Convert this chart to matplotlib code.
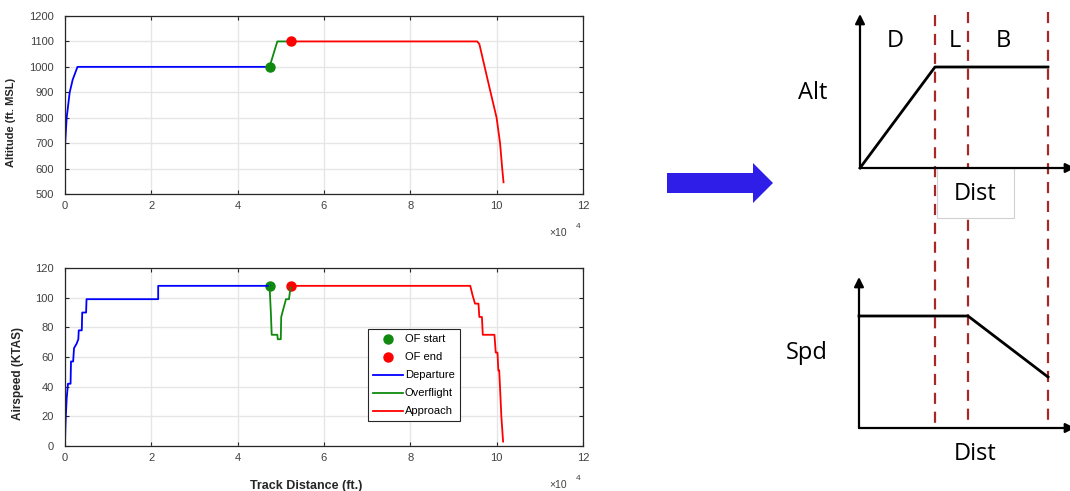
import matplotlib.pyplot as plt
from matplotlib.patches import FancyArrow, Rectangle

plt.rcParams["font.family"] = ["Liberation Sans", "DejaVu Sans"]

# ---- flight profile data (track distance in units of 1e4 ft) ----
dep_alt_x = [0.0, 0.005, 0.04, 0.11, 0.18, 0.29, 4.74]
dep_alt_y = [650, 700, 800, 900, 950, 1000, 1000]
ovf_alt_x = [4.74, 4.92, 5.23]
ovf_alt_y = [1000, 1100, 1100]
app_alt_x = [5.23, 9.55, 9.60, 9.86, 10.0, 10.08, 10.13, 10.16]
app_alt_y = [1100, 1100, 1090, 900, 800, 700, 600, 546]

dep_spd_x = [0.0, 0.01, 0.02, 0.04, 0.07, 0.13, 0.14, 0.19, 0.21, 0.27, 0.31, 0.32, 0.39,
             0.40, 0.49, 0.50, 2.16, 2.16, 4.74]
dep_spd_y = [0, 12, 20, 32, 42, 42, 57, 57, 66, 69, 72, 78, 78, 90, 90, 99, 99, 108, 108]
ovf_spd_x = [4.74, 4.77, 4.79, 4.92, 4.93, 5.00, 5.01, 5.12, 5.19, 5.23]
ovf_spd_y = [108, 90, 75, 75, 72, 72, 87, 99, 99, 108]
app_spd_x = [5.23, 9.39, 9.44, 9.50, 9.58, 9.60, 9.66, 9.68, 9.95, 9.98, 10.02, 10.04, 10.06,
             10.08, 10.11, 10.15]
app_spd_y = [108, 108, 102, 96, 96, 87, 87, 75, 75, 63, 63, 51, 51, 39, 20, 3]

of_start = (4.74, 1000, 108)
of_end = (5.23, 1100, 108)

# ---- schematic (pixel layout of the right-hand sketch) ----
phase_labels = ["D", "L", "B"]
phase_edges = [935, 968, 1048]
alt_sketch_x = [860, 935, 1048]
alt_sketch_y = [168, 67, 67]
spd_sketch_x = [859, 968, 1048]
spd_sketch_y = [316, 316, 377]

BLUE = "#0000ff"
GREEN = "#0f8a0f"
RED = "#ff0000"
TXT = "#404040"
EDGE = "#262626"

fig = plt.figure(figsize=(10.7, 4.91), dpi=100)
ax1 = fig.add_axes([0.0607, 0.6049, 0.4841, 0.3625])
ax2 = fig.add_axes([0.0607, 0.0916, 0.4841, 0.3625])


def style(ax, ylim, yticks):
    ax.set_xlim(0, 12)
    ax.set_ylim(*ylim)
    ax.set_xticks(range(0, 13, 2))
    ax.set_yticks(yticks)
    ax.grid(True, color="#e6e6e6", linewidth=1)
    ax.set_axisbelow(True)
    ax.tick_params(direction="in", length=3, width=0.8, colors=EDGE,
                   labelcolor=TXT, labelsize=8, top=True, right=True)
    ax.tick_params(axis="y", pad=8)
    ax.tick_params(axis="x", pad=5)
    for s in ax.spines.values():
        s.set_color(EDGE)
        s.set_linewidth(0.9)
    ax.text(0.935, -0.22, "\u00d710", transform=ax.transAxes, fontsize=7.5,
            color=TXT, ha="left", va="center")
    ax.text(0.986, -0.185, "4", transform=ax.transAxes, fontsize=6,
            color=TXT, ha="left", va="center")


# 1. Altitude ---------------------------------------------------------------
ax1.plot(dep_alt_x, dep_alt_y, color=BLUE, lw=1.3)
ax1.plot(ovf_alt_x, ovf_alt_y, color=GREEN, lw=1.3)
ax1.plot(app_alt_x, app_alt_y, color=RED, lw=1.3)
ax1.plot(of_start[0], of_start[1], "o", color=GREEN, ms=6.5)
ax1.plot(of_end[0], of_end[1], "o", color=RED, ms=6.5)
style(ax1, (500, 1200), range(500, 1201, 100))
ax1.set_ylabel("Altitude (ft. MSL)", fontsize=8, weight="bold", color=EDGE)
ax1.yaxis.set_label_coords(-0.095, 0.40)

# 2. Airspeed ---------------------------------------------------------------
ax2.plot(of_start[0], of_start[2], "o", color=GREEN, ms=6.5, label="OF start")
ax2.plot(of_end[0], of_end[2], "o", color=RED, ms=6.5, label="OF end")
ax2.plot(dep_spd_x, dep_spd_y, color=BLUE, lw=1.3, label="Departure")
ax2.plot(ovf_spd_x, ovf_spd_y, color=GREEN, lw=1.3, label="Overflight")
ax2.plot(app_spd_x, app_spd_y, color=RED, lw=1.3, label="Approach")
style(ax2, (0, 120), range(0, 121, 20))
ax2.set_ylabel("Airspeed (KTAS)", fontsize=8.5, weight="bold", color=EDGE)
ax2.yaxis.set_label_coords(-0.08, 0.41)
ax2.set_xlabel("Track Distance (ft.)", fontsize=9, weight="bold", color=EDGE)
ax2.xaxis.set_label_coords(0.465, -0.19)

leg = ax2.legend(loc="upper left", bbox_to_anchor=(0.585, 0.655), fontsize=8,
                 fancybox=False, edgecolor=EDGE, framealpha=1, labelspacing=0.72,
                 handlelength=2.7, handletextpad=0.15, borderpad=0.45,
                 borderaxespad=0)
leg.get_frame().set_linewidth(0.8)

# 3. Schematic --------------------------------------------------------------
ax = fig.add_axes([0, 0, 1, 1])
ax.set_xlim(0, 1070)
ax.set_ylim(491, 0)
ax.axis("off")
ax.patch.set_alpha(0)

ax.add_patch(FancyArrow(667, 183, 106, 0, width=20, head_width=40, head_length=20,
                        length_includes_head=True, color="#2e1ee8", lw=0))

for x, top in zip(phase_edges, [15, 12, 12]):
    ax.plot([x, x], [top, 428], color="#a82828", lw=1.6, ls=(0, (5, 3.5)), zorder=2)

# "Dist" text box that hides part of the dashed lines
ax.add_patch(Rectangle((937, 168), 77, 50, facecolor="white", edgecolor="#d0d0d0",
                       lw=0.8, zorder=3))

arrow = dict(arrowstyle="-|>", lw=1.6, color="black", mutation_scale=14,
             shrinkA=0, shrinkB=0)
for ox, oy, ytop in [(860, 168, 14), (859, 428, 277)]:
    ax.annotate("", xy=(ox, ytop), xytext=(ox, oy), arrowprops=arrow, zorder=4)
    ax.annotate("", xy=(1075, oy), xytext=(ox, oy), arrowprops=arrow,
                annotation_clip=False, zorder=4)

ax.plot(alt_sketch_x, alt_sketch_y, color="black", lw=2, zorder=4)
ax.plot(spd_sketch_x, spd_sketch_y, color="black", lw=2, zorder=4)

sk = dict(fontsize=17, family=["Open Sans", "DejaVu Sans"], color="black",
          ha="center", va="center", zorder=5)
for lab, x in zip(phase_labels, [895, 955, 1003]):
    ax.text(x, 41, lab, **sk)
ax.text(813, 93, "Alt", **sk)
ax.text(975, 194, "Dist", **sk)
ax.text(807, 353, "Spd", **sk)
ax.text(975, 454, "Dist", **sk)

fig.savefig("out.png", dpi=100, facecolor="white")
